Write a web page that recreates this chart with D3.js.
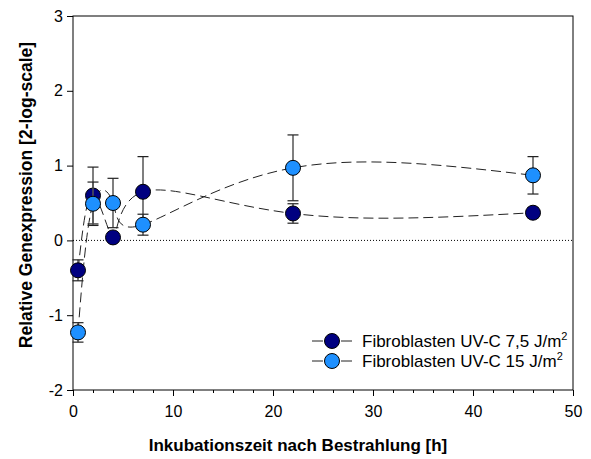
<!DOCTYPE html>
<html>
<head>
<meta charset="utf-8">
<script src="https://cdn.jsdelivr.net/npm/d3@7"></script>
<style>
  html, body { margin: 0; padding: 0; background: #fff; }
  svg { display: block; font-family: Arial, "Liberation Sans", sans-serif; }
</style>
</head>
<body>
<svg id="chart" width="591" height="459"></svg>
<script>
// ---- data ----
const hours = [0.5, 2, 4, 7, 22, 46];
const seriesNames = ["Fibroblasten UV-C 7,5 J/m", "Fibroblasten UV-C 15 J/m"];
const dose75Mean = [-0.40, 0.60, 0.04, 0.65, 0.36, 0.37];
const dose75Err  = [0.14, 0.38, 0.05, 0.47, 0.13, 0.07];
const dose15Mean = [-1.23, 0.49, 0.50, 0.21, 0.97, 0.87];
const dose15Err  = [0.13, 0.29, 0.33, 0.14, 0.44, 0.25];
const seriesColors = ["#000080", "#1e90ff"];
const xTicks = [0, 10, 20, 30, 40, 50];
const yTicks = [-2, -1, 0, 1, 2, 3];

// ---- layout ----
const svg = d3.select("#chart");
const L = 73, R = 573, T = 16, B = 390;
const x = d3.scaleLinear().domain([0, 50]).range([L, R]);
const y = d3.scaleLinear().domain([-2, 3]).range([B, T]);
const FONT = "Arial, 'Liberation Sans', sans-serif";

const series = [
  { name: seriesNames[0], color: seriesColors[0],
    pts: hours.map((h, i) => ({ h, v: dose75Mean[i], e: dose75Err[i] })) },
  { name: seriesNames[1], color: seriesColors[1],
    pts: hours.map((h, i) => ({ h, v: dose15Mean[i], e: dose15Err[i] })) }
];

// frame
svg.append("rect").attr("x", L).attr("y", T).attr("width", R - L).attr("height", B - T)
  .attr("fill", "none").attr("stroke", "#000").attr("stroke-width", 1);

// zero line (dotted)
svg.append("line").attr("x1", L).attr("x2", R).attr("y1", y(0)).attr("y2", y(0))
  .attr("stroke", "#000").attr("stroke-width", 1).attr("stroke-dasharray", "1,2");

// x axis
const xAxis = d3.axisBottom(x).tickValues(xTicks).tickSize(6).tickSizeOuter(0).tickFormat(d => String(d));
const gx = svg.append("g").attr("transform", `translate(0,${B})`).call(xAxis);
gx.select(".domain").remove();
gx.selectAll(".tick text").attr("font-size", 16).attr("dy", "1.1em").attr("fill", "#000")
  .style("font-family", FONT);
const minor = d3.range(0, 51, 2).filter(v => v % 10 !== 0);
const xMinor = d3.axisBottom(x).tickValues(minor).tickSize(3).tickFormat("");
const gxm = svg.append("g").attr("transform", `translate(0,${B})`).call(xMinor);
gxm.select(".domain").remove();

// y axis
const yAxis = d3.axisLeft(y).tickValues(yTicks).tickSize(6).tickSizeOuter(0).tickFormat(d => String(d));
const gy = svg.append("g").attr("transform", `translate(${L},0)`).call(yAxis);
gy.select(".domain").remove();
gy.selectAll(".tick text").attr("font-size", 16).attr("fill", "#000").attr("x", -10)
  .style("font-family", FONT);

// titles
svg.append("text").attr("x", 298).attr("y", 451).attr("text-anchor", "middle")
  .attr("font-size", 17).attr("font-weight", "bold").text("Inkubationszeit nach Bestrahlung [h]");
svg.append("text").attr("transform", "translate(32,195) rotate(-90)").attr("text-anchor", "middle")
  .attr("font-size", 17.5).attr("font-weight", "bold").text("Relative Genexpression [2-log-scale]");

// curves
const line = d3.line().x(d => x(d.h)).y(d => y(d.v)).curve(d3.curveNatural);
series.forEach(s => {
  svg.append("path").attr("d", line(s.pts)).attr("fill", "none")
    .attr("stroke", "#222").attr("stroke-width", 1).attr("stroke-dasharray", "10,5");
});

// error bars + markers
series.forEach(s => {
  const g = svg.append("g");
  s.pts.forEach(p => {
    g.append("line").attr("x1", x(p.h)).attr("x2", x(p.h))
      .attr("y1", y(p.v - p.e)).attr("y2", y(p.v + p.e))
      .attr("stroke", "#555").attr("stroke-width", 1.5);
    [p.v - p.e, p.v + p.e].forEach(vv => {
      g.append("line").attr("x1", x(p.h) - 5.5).attr("x2", x(p.h) + 5.5)
        .attr("y1", y(vv)).attr("y2", y(vv)).attr("stroke", "#222").attr("stroke-width", 1.2);
    });
  });
  g.selectAll("circle").data(s.pts).enter().append("circle")
    .attr("cx", d => x(d.h)).attr("cy", d => y(d.v)).attr("r", 7.5)
    .attr("fill", s.color).attr("stroke", "#000").attr("stroke-width", 1);
});

// legend
const legY = [341, 361];
series.forEach((s, i) => {
  const g = svg.append("g");
  g.append("line").attr("x1", 312).attr("x2", 323).attr("y1", legY[i]).attr("y2", legY[i])
    .attr("stroke", "#222").attr("stroke-width", 1);
  g.append("line").attr("x1", 341).attr("x2", 352).attr("y1", legY[i]).attr("y2", legY[i])
    .attr("stroke", "#222").attr("stroke-width", 1);
  g.append("circle").attr("cx", 332).attr("cy", legY[i]).attr("r", 7.5)
    .attr("fill", s.color).attr("stroke", "#000");
  const t = g.append("text").attr("x", 362).attr("y", legY[i] + 6).attr("font-size", 17).attr("fill", "#000");
  t.append("tspan").text(s.name);
  t.append("tspan").attr("font-size", 11).attr("dy", -7).text("2");
});
</script>
</body>
</html>
